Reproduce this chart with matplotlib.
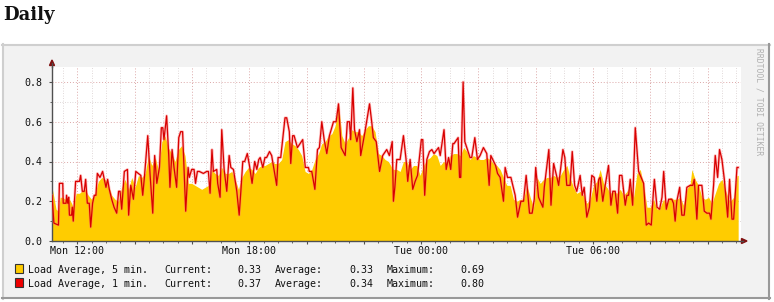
import numpy as np
import matplotlib.pyplot as plt
from matplotlib.patches import Rectangle, Polygon
from matplotlib.lines import Line2D
from matplotlib.ticker import FixedLocator, FixedFormatter, MultipleLocator

plt.rcParams['font.family'] = ['DejaVu Sans Mono']

# ------------------------------------------------------------
# data, x = 5-minute step since start
# ------------------------------------------------------------
START_HOUR = 11 + 7 / 60      # first sample, Mon ~11:07
STEP_HOURS = 5 / 60

# Load Average, 1 min. (red line)
load1_step = [
    0, 0.8, 2.7, 3.1, 4.5, 4.7, 5.9, 6.1, 6.6, 7.0,
    7.3, 8.2, 8.5, 8.9, 9.9, 11.5, 12.0, 12.7, 13.5, 14.1,
    14.8, 15.6, 16.2, 17.0, 17.7, 18.4, 19.0, 20.1, 21.2, 21.9,
    22.6, 23.3, 24.0, 25.0, 26.0, 27.1, 27.9, 28.5, 29.2, 30.3,
    31.6, 32.1, 33.0, 34.1, 35.1, 37.2, 38.0, 38.7, 40.1, 41.1,
    42.2, 43.0, 43.9, 45.0, 45.8, 46.4, 46.9, 48.0, 48.9, 49.4,
    50.3, 51.1, 52.2, 53.1, 53.9, 54.7, 56.0, 57.0, 57.5, 58.5,
    59.5, 60.1, 60.9, 61.7, 63.4, 64.8, 65.5, 66.2, 67.0, 67.6,
    69.0, 69.4, 70.4, 71.1, 72.1, 73.2, 74.2, 74.9, 76.0, 77.4,
    78.4, 79.1, 79.9, 80.7, 81.8, 82.7, 83.8, 84.9, 85.8, 86.6,
    87.2, 88.3, 89.2, 89.9, 91.1, 92.0, 94.1, 94.7, 95.8, 97.6,
    98.3, 99.4, 100.0, 100.8, 101.4, 102.8, 105.0, 106.1, 107.4, 107.8,
    108.8, 110.1, 111.2, 112.0, 113.0, 114.0, 115.1, 116.2, 117.9, 119.0,
    120.0, 121.1, 122.8, 123.7, 124.6, 125.1, 126.0, 126.7, 127.7, 128.8,
    129.3, 131.1, 133.0, 134.0, 134.6, 135.8, 137.2, 138.5, 140.2, 141.3,
    142.5, 143.0, 143.6, 144.4, 145.8, 147.2, 148.3, 149.0, 150.0, 151.1,
    152.1, 153.1, 154.7, 155.3, 156.1, 157.0, 158.1, 159.1, 160.0, 161.9,
    162.6, 164.2, 165.1, 166.1, 167.0, 167.9, 168.4, 170.1, 170.7, 171.2,
    172.2, 172.9, 174.0, 175.1, 175.8, 177.1, 178.2, 179.3, 180.7, 182.1,
    183.1, 183.8, 185.8, 186.6, 187.7, 189.1, 189.8, 190.8, 192.2, 194.0,
    195.0, 196.4, 197.5, 198.6, 200.0, 201.1, 202.0, 202.6, 203.8, 205.6,
    206.2, 208.1, 209.0, 210.1, 211.5, 212.2, 214.0, 214.8, 215.6, 217.0,
    217.9, 218.9, 219.8, 221.2, 222.1, 222.9, 224.0, 225.1, 226.1, 227.1,
    228.2, 229.0, 229.6, 230.7, 231.7, 233.1, 234.1, 234.9, 235.9, 236.9,
    237.7, 238.7, 240.1, 240.8, 241.5, 242.2, 243.2, 244.3, 245.7, 247.8,
    248.9, 249.9, 251.0, 251.8, 252.3, 253.4, 254.5, 255.5, 256.2, 257.3,
    258.3, 259.6, 260.3, 261.0, 261.7, 262.9, 263.8, 264.8, 265.9, 267.3,
    268.4, 269.0, 270.1, 270.8, 272.2, 273.2, 274.3, 275.4, 276.0, 277.1,
    277.8, 278.8, 279.6, 280.6, 281.6, 283.0, 283.8, 284.8, 285.5, 286.9,
    287.4,
]
load1 = [
    0.23, 0.09, 0.08, 0.29, 0.29, 0.19, 0.19, 0.23, 0.19, 0.22,
    0.13, 0.13, 0.17, 0.10, 0.30, 0.30, 0.33, 0.25, 0.25, 0.31,
    0.19, 0.19, 0.07, 0.19, 0.23, 0.23, 0.34, 0.32, 0.35, 0.31,
    0.27, 0.31, 0.26, 0.21, 0.17, 0.14, 0.25, 0.25, 0.16, 0.35,
    0.36, 0.13, 0.28, 0.21, 0.35, 0.33, 0.23, 0.32, 0.53, 0.33,
    0.14, 0.43, 0.29, 0.37, 0.57, 0.57, 0.51, 0.63, 0.43, 0.27,
    0.46, 0.37, 0.27, 0.52, 0.55, 0.55, 0.15, 0.37, 0.32, 0.36,
    0.36, 0.29, 0.35, 0.35, 0.34, 0.35, 0.35, 0.24, 0.46, 0.35,
    0.36, 0.29, 0.22, 0.56, 0.36, 0.25, 0.43, 0.37, 0.36, 0.25,
    0.13, 0.25, 0.40, 0.40, 0.44, 0.38, 0.29, 0.40, 0.36, 0.41,
    0.42, 0.37, 0.42, 0.42, 0.45, 0.43, 0.28, 0.42, 0.42, 0.62,
    0.62, 0.55, 0.39, 0.53, 0.53, 0.47, 0.51, 0.37, 0.37, 0.35,
    0.35, 0.26, 0.46, 0.47, 0.60, 0.51, 0.44, 0.53, 0.60, 0.60,
    0.69, 0.47, 0.43, 0.60, 0.60, 0.51, 0.77, 0.56, 0.50, 0.56,
    0.43, 0.55, 0.69, 0.59, 0.52, 0.50, 0.35, 0.43, 0.46, 0.43,
    0.50, 0.20, 0.27, 0.41, 0.41, 0.53, 0.41, 0.30, 0.41, 0.26,
    0.30, 0.33, 0.51, 0.51, 0.23, 0.41, 0.45, 0.46, 0.44, 0.47,
    0.43, 0.56, 0.36, 0.42, 0.36, 0.49, 0.49, 0.52, 0.32, 0.32,
    0.80, 0.50, 0.46, 0.42, 0.42, 0.52, 0.41, 0.43, 0.47, 0.44,
    0.28, 0.43, 0.38, 0.34, 0.32, 0.20, 0.37, 0.32, 0.32, 0.23,
    0.12, 0.20, 0.20, 0.33, 0.14, 0.14, 0.21, 0.37, 0.22, 0.17,
    0.27, 0.46, 0.18, 0.39, 0.32, 0.28, 0.46, 0.42, 0.28, 0.28,
    0.45, 0.28, 0.25, 0.33, 0.23, 0.27, 0.12, 0.17, 0.33, 0.32,
    0.20, 0.31, 0.32, 0.20, 0.28, 0.38, 0.18, 0.25, 0.25, 0.14,
    0.33, 0.33, 0.18, 0.23, 0.23, 0.31, 0.18, 0.57, 0.35, 0.29,
    0.08, 0.09, 0.08, 0.23, 0.31, 0.17, 0.16, 0.22, 0.35, 0.16,
    0.21, 0.21, 0.19, 0.10, 0.20, 0.27, 0.13, 0.13, 0.27, 0.28,
    0.28, 0.31, 0.11, 0.28, 0.28, 0.15, 0.14, 0.14, 0.11, 0.28,
    0.43, 0.32, 0.46, 0.41, 0.31, 0.12, 0.31, 0.11, 0.11, 0.37,
    0.37,
]

# Load Average, 5 min. (yellow area)
load5_step = [
    0, 0.8, 1.7, 2.7, 3.4, 4.5, 5.4, 6.1, 7.3, 8.2,
    8.9, 10.1, 11.5, 12.4, 13.8, 15.2, 16.6, 18.0, 19.4, 20.8,
    22.2, 23.6, 25.0, 26.4, 27.8, 29.2, 30.6, 32.0, 33.4, 34.8,
    36.2, 37.6, 39.0, 40.4, 41.8, 43.2, 44.6, 46.0, 47.3, 48.7,
    50.1, 51.5, 52.9, 54.3, 55.7, 57.1, 58.5, 59.9, 61.3, 62.7,
    64.1, 65.5, 66.9, 68.3, 69.7, 71.1, 72.5, 73.9, 75.3, 76.7,
    78.1, 79.5, 80.9, 82.3, 83.7, 85.1, 86.5, 87.8, 89.2, 90.6,
    92.0, 93.4, 94.8, 96.2, 97.6, 99.0, 100.4, 101.8, 103.2, 104.6,
    106.0, 107.4, 108.8, 110.2, 111.6, 113.0, 114.4, 115.8, 117.2, 118.6,
    120.0, 121.4, 122.8, 124.2, 125.6, 127.0, 128.4, 129.7, 131.1, 132.5,
    133.9, 135.3, 136.7, 138.1, 139.5, 140.9, 142.3, 143.0, 144.4, 145.8,
    147.2, 148.6, 150.0, 151.4, 152.8, 154.2, 155.6, 157.0, 158.4, 159.8,
    161.2, 162.6, 164.0, 165.4, 166.8, 168.2, 169.6, 171.0, 172.4, 173.8,
    175.1, 176.5, 177.9, 179.3, 180.7, 182.1, 183.5, 184.9, 186.3, 187.7,
    189.1, 190.5, 191.9, 193.3, 194.7, 196.1, 197.5, 198.9, 200.3, 201.7,
    203.1, 204.5, 205.9, 207.3, 208.7, 210.1, 211.5, 212.9, 214.3, 215.7,
    217.0, 218.4, 219.8, 221.2, 222.6, 224.0, 225.4, 226.8, 228.2, 229.6,
    231.0, 232.4, 233.8, 235.2, 236.6, 238.0, 239.4, 240.8, 242.2, 243.6,
    245.0, 246.4, 247.8, 249.2, 250.6, 252.0, 253.4, 254.7, 256.1, 257.5,
    258.9, 260.3, 261.7, 263.1, 264.5, 265.9, 267.3, 268.0, 269.4, 270.8,
    272.2, 273.6, 275.0, 276.4, 277.8, 279.2, 280.6, 282.0, 283.4, 284.1,
    285.5, 286.9, 287.4,
]
load5 = [
    0.27, 0.22, 0.16, 0.15, 0.22, 0.22, 0.21, 0.22, 0.21, 0.19,
    0.17, 0.24, 0.24, 0.25, 0.26, 0.23, 0.21, 0.24, 0.30, 0.32,
    0.31, 0.28, 0.23, 0.21, 0.20, 0.27, 0.31, 0.26, 0.32, 0.27,
    0.33, 0.32, 0.34, 0.43, 0.38, 0.42, 0.36, 0.50, 0.53, 0.47,
    0.44, 0.40, 0.46, 0.48, 0.43, 0.29, 0.29, 0.28, 0.27, 0.26,
    0.27, 0.28, 0.36, 0.34, 0.33, 0.37, 0.34, 0.34, 0.35, 0.31,
    0.26, 0.32, 0.35, 0.37, 0.36, 0.34, 0.37, 0.38, 0.38, 0.39,
    0.40, 0.39, 0.39, 0.41, 0.50, 0.51, 0.49, 0.48, 0.46, 0.43,
    0.35, 0.34, 0.36, 0.41, 0.44, 0.49, 0.50, 0.53, 0.54, 0.58,
    0.69, 0.53, 0.49, 0.52, 0.56, 0.55, 0.55, 0.53, 0.56, 0.58,
    0.58, 0.55, 0.44, 0.43, 0.41, 0.40, 0.37, 0.36, 0.36, 0.35,
    0.40, 0.40, 0.36, 0.38, 0.38, 0.33, 0.38, 0.41, 0.42, 0.44,
    0.43, 0.38, 0.40, 0.39, 0.43, 0.44, 0.44, 0.43, 0.47, 0.45,
    0.41, 0.43, 0.42, 0.41, 0.41, 0.42, 0.41, 0.39, 0.38, 0.36,
    0.32, 0.28, 0.28, 0.21, 0.20, 0.21, 0.21, 0.28, 0.22, 0.17,
    0.32, 0.29, 0.31, 0.32, 0.32, 0.33, 0.32, 0.33, 0.36, 0.38,
    0.32, 0.27, 0.24, 0.25, 0.23, 0.19, 0.21, 0.28, 0.30, 0.36,
    0.29, 0.27, 0.24, 0.25, 0.24, 0.26, 0.23, 0.25, 0.28, 0.22,
    0.34, 0.36, 0.28, 0.17, 0.17, 0.21, 0.16, 0.17, 0.21, 0.19,
    0.22, 0.21, 0.21, 0.22, 0.18, 0.26, 0.29, 0.36, 0.31, 0.28,
    0.22, 0.21, 0.22, 0.19, 0.24, 0.29, 0.31, 0.26, 0.21, 0.20,
    0.22, 0.33, 0.33,
]

legend_labels = ["Load Average, 5 min.", "Load Average, 1 min."]
legend_current = ["0.33", "0.37"]
legend_average = ["0.33", "0.34"]
legend_maximum = ["0.69", "0.80"]

x_labels = {12: "Mon 12:00", 18: "Mon 18:00", 24: "Tue 00:00", 30: "Tue 06:00"}

# ------------------------------------------------------------
# figure / frame (pixel helpers)
# ------------------------------------------------------------
W, H = 774, 302


def fx(px):
    return px / W


def fy(py):
    return 1 - py / H


fig = plt.figure(figsize=(W / 100, H / 100), dpi=100)
fig.patch.set_facecolor("white")

fig.text(fx(3), fy(20), "Daily", family="DejaVu Serif", weight="bold",
         fontsize=13, ha="left", va="baseline", color="#111111")

fig.patches.append(Rectangle((fx(2), fy(299)), 768 / W, 255 / H,
                             transform=fig.transFigure, facecolor="#f2f2f2",
                             edgecolor="none", zorder=-5))
for (x0, y0, x1, y1, c) in [(2, 45, 770, 45, "#cfcfcf"), (3, 44, 3, 299, "#cfcfcf"),
                            (2, 298, 770, 298, "#999999"), (769, 44, 769, 299, "#999999")]:
    fig.lines.append(Line2D([fx(x0), fx(x1)], [fy(y0), fy(y1)], transform=fig.transFigure,
                            color=c, lw=1.5, zorder=-4))

# ------------------------------------------------------------
# plot
# ------------------------------------------------------------
ax = fig.add_axes([fx(52), fy(241), (741 - 52) / W, (241 - 67) / H])
ax.set_zorder(1)
ax.set_facecolor("white")

t1 = START_HOUR + np.array(load1_step) * STEP_HOURS
t5 = START_HOUR + np.array(load5_step) * STEP_HOURS

ax.fill_between(t5, 0, load5, color="#FFCC00", lw=0, zorder=2)
ax.plot(t1, load1, color="#ff7070", lw=2.0, alpha=0.45, zorder=3)
ax.plot(t1, load1, color="#d80000", lw=0.9, zorder=4)

ax.set_xlim(START_HOUR, START_HOUR + (741 - 52) / 28.65)
ax.set_ylim(0, (241 - 67) / 198.75)

major_x = list(range(12, 36, 2))
ax.xaxis.set_major_locator(FixedLocator(major_x))
ax.xaxis.set_major_formatter(FixedFormatter([x_labels.get(h, "") for h in major_x]))
ax.xaxis.set_minor_locator(MultipleLocator(0.5))
ax.yaxis.set_major_locator(MultipleLocator(0.2))
ax.yaxis.set_minor_locator(MultipleLocator(0.1))
ax.yaxis.set_major_formatter(plt.FuncFormatter(lambda v, p: f"{v:.1f}"))

ax.set_axisbelow(True)
ax.grid(which="minor", color="#d6cccc", ls=(0, (1, 2)), lw=0.6)
ax.grid(which="major", color="#dca8a8", ls=(0, (1, 2)), lw=0.7)

for s in ["top", "right"]:
    ax.spines[s].set_visible(False)
for s in ["left", "bottom"]:
    ax.spines[s].set_color("#505050")
    ax.spines[s].set_linewidth(1.0)

ax.tick_params(which="major", direction="out", length=2.2, width=0.8, color="#505050",
               labelsize=7.2, labelcolor="#111111")
ax.tick_params(which="minor", direction="out", length=1.2, width=0.6, color="#505050")
ax.tick_params(axis="x", which="major", pad=1.5)
ax.tick_params(axis="y", which="major", pad=4.5)

# axis arrows
fig.lines.append(Line2D([fx(52), fx(52)], [fy(67), fy(63)], transform=fig.transFigure,
                        color="#505050", lw=1.0))
fig.lines.append(Line2D([fx(741), fx(743)], [fy(241), fy(241)], transform=fig.transFigure,
                        color="#505050", lw=1.0))
fig.patches.append(Polygon([(fx(52), fy(60)), (fx(49.5), fy(65.5)), (fx(54.5), fy(65.5))],
                           transform=fig.transFigure, color="#801010"))
fig.patches.append(Polygon([(fx(747), fy(241)), (fx(741.5), fy(238.5)), (fx(741.5), fy(243.5))],
                           transform=fig.transFigure, color="#801010"))

# watermark
fig.text(fx(759), fy(48), "RRDTOOL / TOBI OETIKER", rotation=270, ha="center", va="top",
         fontsize=5.8, color="#b0b0b0")

# ------------------------------------------------------------
# legend
# ------------------------------------------------------------
swatch_colors = ["#FFCC00", "#EE0000"]
for i in range(2):
    base = 273 + 14 * i
    fig.patches.append(Rectangle((fx(15), fy(base)), 8 / W, 9 / H, transform=fig.transFigure,
                                 facecolor=swatch_colors[i], edgecolor="#333333", lw=0.8))
    kw = dict(fontsize=7.2, va="baseline", color="#111111")
    fig.text(fx(28), fy(base), legend_labels[i], ha="left", **kw)
    fig.text(fx(164), fy(base), "Current:", ha="left", **kw)
    fig.text(fx(261), fy(base), legend_current[i], ha="right", **kw)
    fig.text(fx(275), fy(base), "Average:", ha="left", **kw)
    fig.text(fx(373), fy(base), legend_average[i], ha="right", **kw)
    fig.text(fx(387), fy(base), "Maximum:", ha="left", **kw)
    fig.text(fx(484), fy(base), legend_maximum[i], ha="right", **kw)

fig.savefig("out.png", dpi=100)
